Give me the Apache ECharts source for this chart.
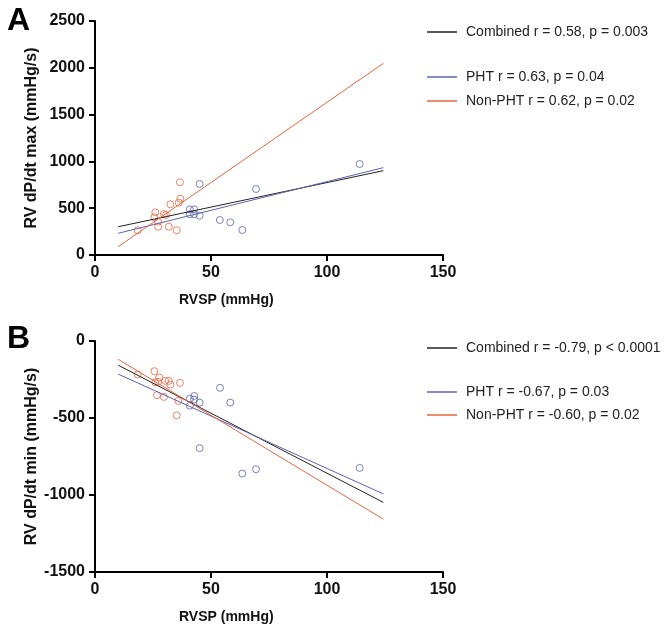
<!DOCTYPE html>
<html>
<head>
<meta charset="utf-8">
<script src="https://cdn.jsdelivr.net/npm/echarts@6/dist/echarts.min.js"></script>
<style>
    html, body {margin: 0; padding: 0; background: #fff;}
    #chart {width: 666px; height: 629px;}
</style>
</head>
<body>
<div id="chart"></div>
<script>
const chart = echarts.init(document.getElementById("chart"));

// RVSP (mmHg) vs dP/dt max, panel A
const maxPhtPoints = [
    [45.1, 759], [40.9, 488], [42.7, 488], [40.9, 435], [42.7, 435], [45.1, 420],
    [53.8, 374], [58.3, 349], [63.5, 267], [69.4, 705], [114.1, 972]
];
const maxNonPhtPoints = [
    [18.4, 264], [26.0, 456], [25.6, 403], [27.2, 356], [27.2, 302], [29.7, 438], [30.6, 427],
    [31.8, 302], [32.5, 542], [35.2, 264], [36.1, 559], [36.8, 601], [36.6, 777]
];
const maxCombinedFit = [[10, 302], [124.3, 901]];
const maxPhtFit = [[10, 232], [124.3, 933]];
const maxNonPhtFit = [[10, 89], [124.3, 2048]];

// RVSP (mmHg) vs dP/dt min, panel B
const minPhtPoints = [
    [40.9, -374], [42.8, -357], [42.7, -380], [45.1, -400], [40.9, -420], [53.9, -304],
    [58.3, -400], [45.1, -696], [63.5, -861], [69.4, -833], [114.1, -824]
];
const minNonPhtPoints = [
    [18.4, -217], [25.6, -196], [27.7, -237], [26.0, -269], [27.2, -265], [30.3, -259], [31.8, -259],
    [32.5, -283], [36.6, -272], [26.7, -352], [29.7, -363], [35.9, -389], [35.2, -483]
];
const minCombinedFit = [[10, -157], [124.3, -1048]];
const minPhtFit = [[10, -215], [124.3, -993]];
const minNonPhtFit = [[10, -119], [124.3, -1157]];

const legendA = ["Combined r = 0.58, p = 0.003", "PHT r = 0.63, p = 0.04", "Non-PHT r = 0.62, p = 0.02"];
const legendB = ["Combined r = -0.79, p < 0.0001", "PHT r = -0.67, p = 0.03", "Non-PHT r = -0.60, p = 0.02"];

const BLACK = "#222222";
const BLUE = "#5b63ae";
const RED = "#e8643f";
const FONT = "Liberation Sans";

function xAxis(gridIndex) {
    return {
        gridIndex,
        type: "value",
        min: 0, max: 150, interval: 50,
        axisLine: {show: true, onZero: false, lineStyle: {color: "#000", width: 2}},
        axisTick: {show: true, length: 6, lineStyle: {color: "#000", width: 2}},
        axisLabel: {color: "#111", fontFamily: FONT, fontWeight: "bold", fontSize: 16, margin: 10},
        splitLine: {show: false}
    };
}

function yAxis(gridIndex, min, max, name) {
    return {
        gridIndex,
        type: "value",
        min, max, interval: 500,
        name,
        nameLocation: "middle",
        nameGap: 55,
        nameMoveOverlap: false,
        nameTextStyle: {color: "#111", fontFamily: FONT, fontWeight: "bold", fontSize: 16},
        axisLine: {show: true, onZero: false, lineStyle: {color: "#000", width: 2}},
        axisTick: {show: true, length: 6, lineStyle: {color: "#000", width: 2}},
        axisLabel: {
            color: "#111", fontFamily: FONT, fontWeight: "bold", fontSize: 16, margin: 10,
            formatter: value => String(value)
        },
        splitLine: {show: false}
    };
}

function fitLine(name, data, color, idx) {
    return {
        name, type: "line", data,
        xAxisIndex: idx, yAxisIndex: idx,
        showSymbol: false, silent: true,
        lineStyle: {color, width: 1},
        itemStyle: {color}
    };
}

function dots(data, color, idx) {
    return {
        type: "scatter", data,
        xAxisIndex: idx, yAxisIndex: idx,
        symbol: "circle", symbolSize: 7,
        itemStyle: {color: "rgba(255,255,255,0)", borderColor: color, borderWidth: 1}
    };
}

function legendItem(name, top) {
    return {
        data: [name],
        left: 427, top,
        padding: 0,
        icon: "rect",
        itemWidth: 30, itemHeight: 1.5,
        itemGap: 0,
        textStyle: {color: "#222", fontFamily: FONT, fontSize: 14, padding: [0, 0, 0, 4]}
    };
}

const axisTitle = {color: "#111", fontFamily: FONT, fontWeight: "bold", fontSize: 14};

chart.setOption({
    animation: false,
    title: [
        {text: "A", left: 2, top: 0, textStyle: {color: "#000", fontFamily: FONT, fontWeight: "bold", fontSize: 32}},
        {text: "B", left: 2, top: 318, textStyle: {color: "#000", fontFamily: FONT, fontWeight: "bold", fontSize: 32}},
        {text: "RVSP (mmHg)", left: 174, top: 288, textStyle: axisTitle},
        {text: "RVSP (mmHg)", left: 174, top: 605, textStyle: axisTitle}
    ],
    legend: [
        legendItem(legendA[0], 25),
        legendItem(legendA[1], 70),
        legendItem(legendA[2], 94),
        legendItem(legendB[0], 341),
        legendItem(legendB[1], 385),
        legendItem(legendB[2], 408)
    ],
    grid: [
        {left: 95, top: 21, width: 348, height: 234},
        {left: 95, top: 341, width: 348, height: 231}
    ],
    xAxis: [xAxis(0), xAxis(1)],
    yAxis: [
        yAxis(0, 0, 2500, "RV dP/dt max (mmHg/s)"),
        yAxis(1, -1500, 0, "RV dP/dt min (mmHg/s)")
    ],
    series: [
        fitLine(legendA[0], maxCombinedFit, BLACK, 0),
        fitLine(legendA[1], maxPhtFit, BLUE, 0),
        fitLine(legendA[2], maxNonPhtFit, RED, 0),
        dots(maxPhtPoints, BLUE, 0),
        dots(maxNonPhtPoints, RED, 0),
        fitLine(legendB[0], minCombinedFit, BLACK, 1),
        fitLine(legendB[1], minPhtFit, BLUE, 1),
        fitLine(legendB[2], minNonPhtFit, RED, 1),
        dots(minPhtPoints, BLUE, 1),
        dots(minNonPhtPoints, RED, 1)
    ]
});
</script>
</body>
</html>
